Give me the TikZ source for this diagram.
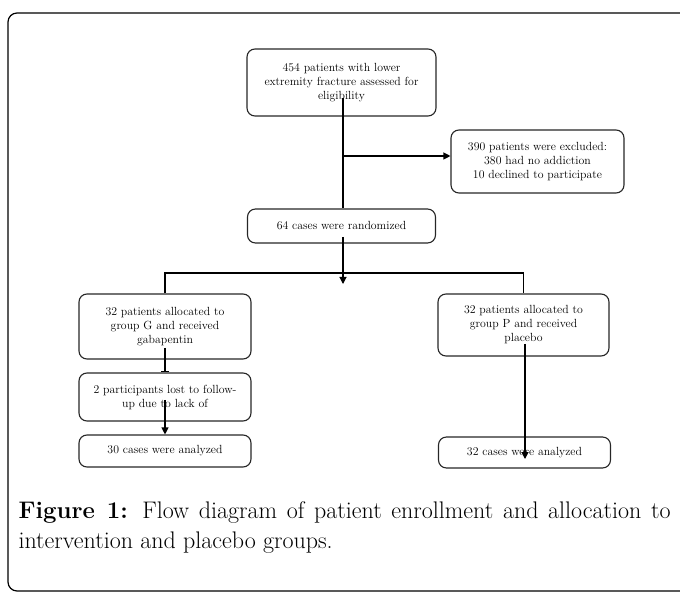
\documentclass[tikz,border=0pt]{standalone}
\usepackage{tikz}
\usetikzlibrary{calc}
\usetikzlibrary{arrows.meta}
\usetikzlibrary{positioning}

\begin{document}
\begin{tikzpicture}[x=1pt, y=-1pt, line width=1.1pt,
 box/.style={rectangle, rounded corners=8pt, draw=black!85, align=center, inner sep=0pt, font=\fontsize{11.8}{14}\selectfont},
 arr/.style={-{Triangle[length=7pt,width=7pt]}},
 tee/.style={-{Bar[width=8pt,line width=1.3pt]}}]
 \clip (0,0) rectangle (680,593);
 \useasboundingbox (0,0) rectangle (680,593);
 \draw[rounded corners=9pt, line width=1.2pt] (8,13) rectangle (720,591);

 \node[box, minimum width=189pt, minimum height=67pt] (A) at (341.5,82.5) {454 patients with lower\\extremity fracture assessed for\\eligibility};
 \node[box, minimum width=173pt, minimum height=63pt] (X) at (537.5,161.5) {390 patients were excluded:\\380 had no addiction\\10 declined to participate};
 \node[box, minimum width=188pt, minimum height=34pt] (R) at (341.5,226) {64 cases were randomized};
 \node[box, minimum width=172pt, minimum height=65pt] (G) at (165,326.5) {32 patients allocated to\\group G and received\\gabapentin};
 \node[box, minimum width=171pt, minimum height=62pt] (P) at (523.5,325) {32 patients allocated to\\group P and received\\placebo};
 \node[box, minimum width=172pt, minimum height=48pt] (L) at (165,397) {2 participants lost to follow-\\up due to lack of};
 \node[box, minimum width=172pt, minimum height=32pt] (AG) at (165,451) {30 cases were analyzed};
 \node[box, minimum width=172pt, minimum height=31pt] (AP) at (524.5,452.5) {32 cases were analyzed};

 % connectors
 \coordinate (a1) at (343,98);
 \coordinate (a2) at (343,156);
 \draw (a1) -- (a1 |- R.north);
 \draw[arr] (a2) -- (a2 -| X.west);
 \coordinate (r1) at (343,237);
 \draw[arr] (r1) -- (343,284);
 \coordinate (s) at (343,273);
 \draw (G.north) -- (G.north |- s) -- (P.north |- s) -- (P.north);
 \draw[tee] (165,348) -- (L.north);
 \draw[arr] (165,400) -- (AG.north);
 \draw[arr] (525,344) -- (525,459);

 \node[text width=652pt, align=justify, inner sep=0pt, anchor=north west, font=\fontsize{24}{30}\selectfont] (cap) at (18,501)
 {\textbf{Figure 1:} Flow diagram of patient enrollment and allocation to\linebreak intervention and placebo groups.};
\end{tikzpicture}
\end{document}
